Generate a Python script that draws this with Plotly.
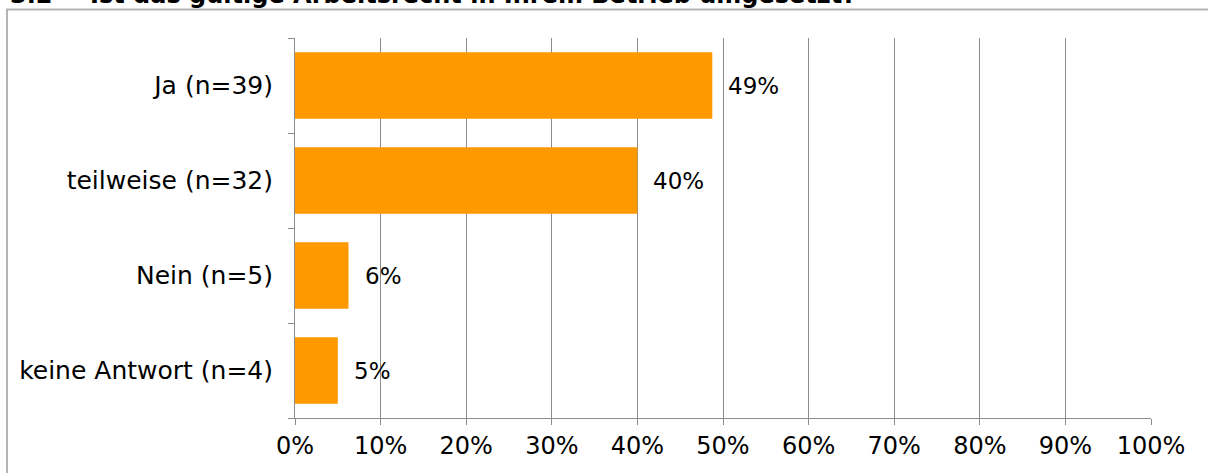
import plotly.graph_objects as go

# survey answers, top to bottom
categories = ["Ja (n=39)", "teilweise (n=32)", "Nein (n=5)", "keine Antwort (n=4)"]
shares = [48.75, 40.0, 6.25, 5.0]   # percent of 80 respondents
tick_values = [0, 10, 20, 30, 40, 50, 60, 70, 80, 90, 100]
tick_labels = ["0%", "10%", "20%", "30%", "40%", "50%", "60%", "70%", "80%", "90%", "100%"]

W, H = 1208, 473
M_L, M_R, M_T, M_B = 295, 57, 38, 55
PW, PH = W - M_L - M_R, H - M_T - M_B


def px_x(p):
    return (p - M_L) / PW


def px_y(p):
    return (H - M_B - p) / PH


FONT = "DejaVu Sans"
GREY = "#8c8c8c"

fig = go.Figure(
    go.Bar(
        x=shares,
        y=categories,
        orientation="h",
        marker=dict(color="#FF9900", line=dict(width=0)),
        hoverinfo="skip",
    )
)

# value labels to the right of each bar
for cat, val in zip(categories, shares):
    fig.add_annotation(
        x=val, y=cat, xref="x", yref="y",
        text=f"{val:.0f}%", showarrow=False,
        xanchor="left", yanchor="middle", xshift=14,
        font=dict(family=FONT, size=23, color="#000"),
    )

# section heading above the chart frame
for x_px, label in [(8, "<b>3.2</b>"),
                    (88, "<b>Ist das gültige Arbeitsrecht in Ihrem Betrieb umgesetzt?</b>")]:
    fig.add_annotation(
        x=px_x(x_px), y=px_y(-5), xref="paper", yref="paper",
        text=label, showarrow=False, xanchor="left", yanchor="middle",
        font=dict(family=FONT, size=24, color="#000"),
    )

# chart frame
fig.add_shape(
    type="rect", xref="paper", yref="paper",
    x0=px_x(7), x1=px_x(W + 10), y0=px_y(H + 10), y1=px_y(9.5),
    line=dict(color="#b4b4b4", width=2), fillcolor="rgba(0,0,0,0)", layer="below",
)

fig.update_layout(
    width=W, height=H,
    margin=dict(l=M_L, r=M_R, t=M_T, b=M_B, pad=0),
    paper_bgcolor="white", plot_bgcolor="white",
    bargap=0.3, showlegend=False,
    font=dict(family=FONT, size=24, color="#000"),
)
fig.update_xaxes(
    range=[0, 100], tickvals=tick_values, ticktext=tick_labels,
    showgrid=True, gridcolor=GREY, gridwidth=1,
    showline=True, linecolor=GREY, linewidth=1,
    ticks="outside", ticklen=6, tickcolor=GREY, tickwidth=1,
    tickfont=dict(family=FONT, size=24, color="#000"),
    zeroline=False, fixedrange=True,
)
fig.update_yaxes(
    categoryorder="array", categoryarray=categories[::-1],
    showline=True, linecolor=GREY, linewidth=1,
    ticks="outside", ticklen=6, tickcolor=GREY, tickwidth=1,
    tickson="boundaries", ticklabelstandoff=16,
    tickfont=dict(family=FONT, size=25, color="#000"),
    showgrid=False, fixedrange=True,
)

fig.write_html("out.html", config={"displayModeBar": False})
